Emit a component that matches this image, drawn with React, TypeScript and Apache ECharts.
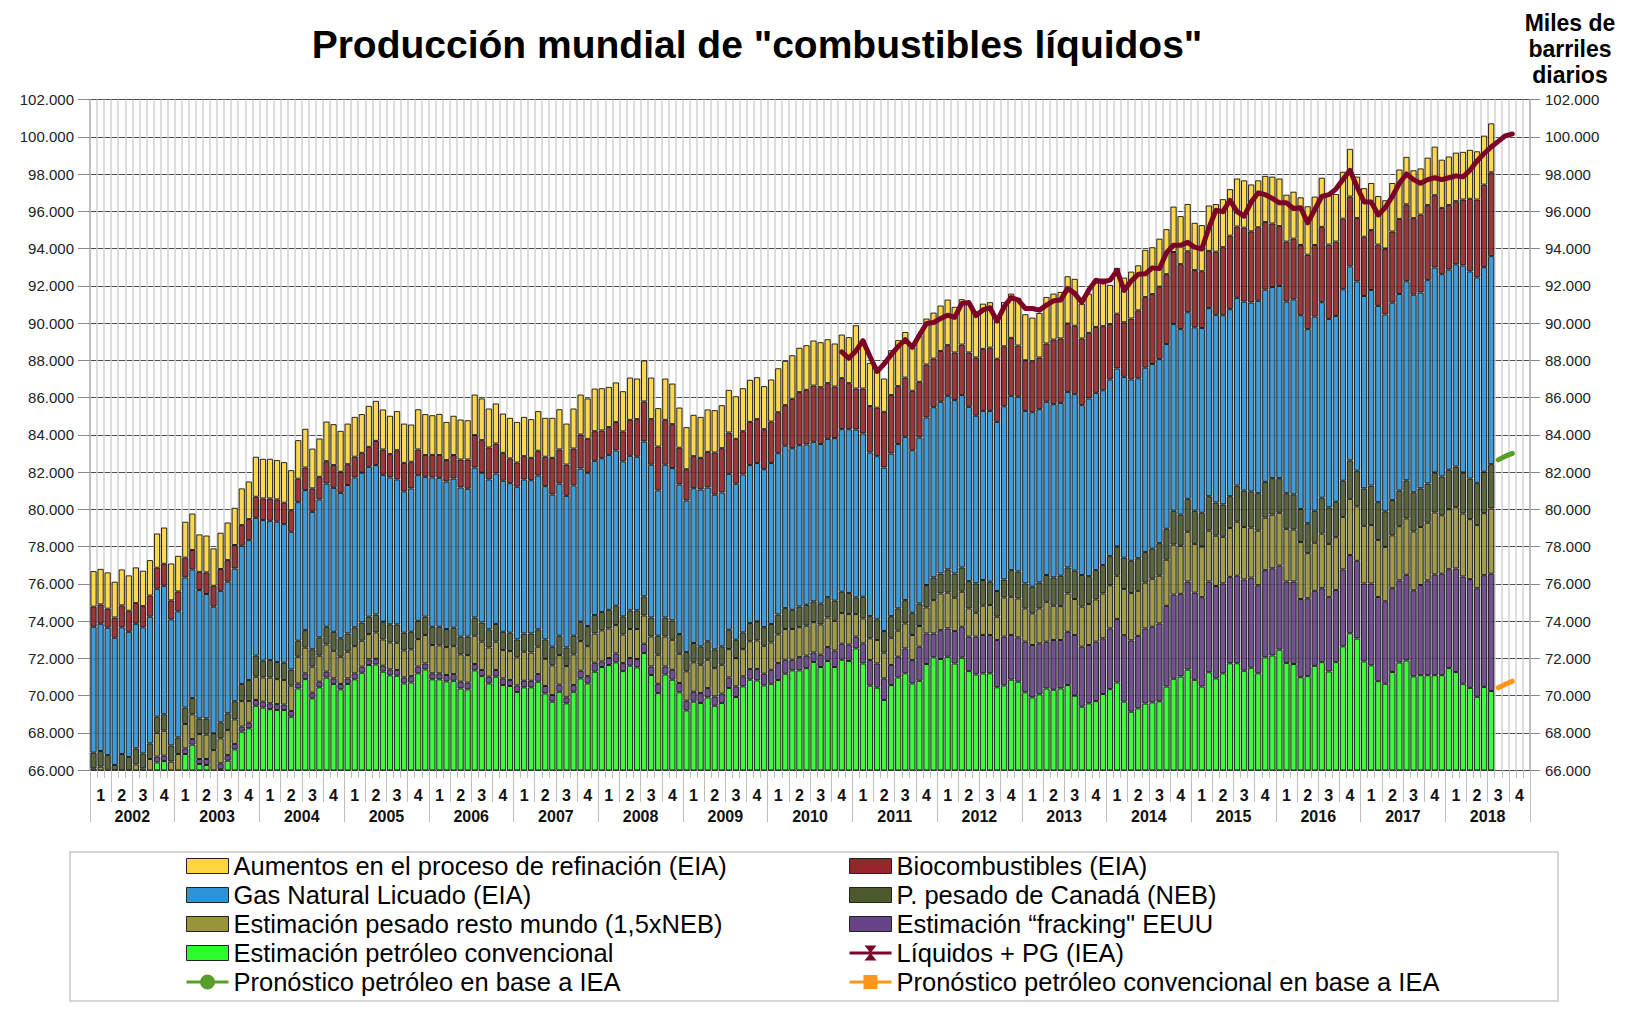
import React, { useEffect, useRef } from "react";
import * as echarts from "echarts";

const FONT = "'Liberation Sans', Arial, Helvetica, sans-serif";

// ---------- categories ----------
const years = ["2002","2003","2004","2005","2006","2007","2008","2009","2010","2011","2012","2013","2014","2015","2016","2017","2018"];
const quarterNames = ["1", "2", "3", "4"];
const monthNames = ["01","02","03","04","05","06","07","08","09","10","11","12"];
const monthCategories = years.flatMap((y) => monthNames.map((m) => `${y}-${m}`));
const quarterCategories = years.flatMap((y) => quarterNames.map((q) => `${y}-T${q}`));

// ---------- series names ----------
const N_REF = "Aumentos en el proceso de refinación (EIA)";
const N_BIO = "Biocombustibles (EIA)";
const N_NGL = "Gas Natural Licuado (EIA)";
const N_CAN = "P. pesado de Canadá (NEB)";
const N_HVY = "Estimación pesado resto mundo (1,5xNEB)";
const N_FRK = "Estimación \u201cfracking\" EEUU";
const N_CNV = "Estimación petróleo convencional";
const N_LIQ = "Líquidos + PG (IEA)";
const N_FC1 = "Pronóstico petróleo en base a IEA";
const N_FC2 = "Pronóstico petróleo convencional en base a IEA";

// ---------- data: cumulative level (top of each layer), millions b/d, Jan 2002 .. Jul 2018 ----------
const refTop = [
  76.68,76.80,76.61,76.11,76.77,76.45,76.88,76.70,77.27,78.70,79.02,77.09,77.50,79.33,79.77,78.65,78.59,77.90,78.74,79.29,80.08,81.12,81.49,82.82,82.71,82.71,82.64,82.53,82.10,83.71,84.32,83.26,83.80,84.71,84.57,84.21,
  84.60,84.96,85.11,85.55,85.82,85.36,85.02,85.27,84.60,84.55,85.37,85.11,85.05,85.12,84.69,85.02,84.82,84.78,86.16,85.95,85.41,85.68,85.14,84.91,84.69,84.96,84.84,85.27,84.91,84.91,85.37,84.60,85.41,86.16,85.95,86.48,
  86.50,86.57,86.81,86.34,87.07,87.02,87.99,87.07,85.43,87.02,86.75,85.46,84.41,85.07,84.96,85.36,85.32,85.59,86.41,86.07,86.50,86.95,87.09,86.61,86.97,87.57,87.97,88.27,88.67,88.81,89.06,88.97,89.13,88.90,89.38,89.24,
  89.88,89.08,87.86,87.56,87.02,88.54,89.08,89.52,88.68,89.35,90.24,90.56,90.94,91.26,90.87,91.28,91.04,90.63,91.04,91.12,90.36,91.13,91.58,91.35,90.47,90.29,90.54,91.40,91.58,91.67,92.51,92.37,91.04,91.58,92.17,92.39,
  92.05,92.96,92.44,92.76,93.10,93.93,94.07,94.53,95.04,96.25,95.74,96.39,95.38,95.26,96.31,96.39,96.65,97.19,97.76,97.66,97.44,97.66,97.90,97.86,97.76,96.89,97.05,96.75,96.27,96.79,97.80,96.91,96.93,98.12,99.35,97.86,
  97.24,97.52,96.82,96.59,97.52,98.24,98.92,98.20,98.30,98.88,99.47,98.77,98.94,99.15,99.19,99.30,99.22,100.06,100.72
];
const bioTop = [
  74.77,74.89,74.66,74.19,74.84,74.55,74.96,74.80,75.37,76.86,77.07,75.11,75.59,77.40,77.81,76.64,76.61,75.89,76.79,77.27,78.08,79.15,79.47,80.67,80.58,80.58,80.53,80.35,79.95,81.64,82.24,81.12,81.74,82.58,82.37,82.01,
  82.42,82.82,83.03,83.35,83.67,83.21,82.96,83.17,82.49,82.55,83.21,82.91,82.92,82.91,82.64,82.91,82.67,82.67,83.98,83.71,83.32,83.53,83.03,82.73,82.51,82.85,82.76,83.14,82.82,82.76,83.21,82.40,83.26,84.01,83.78,84.19,
  84.23,84.41,84.68,84.18,84.80,84.84,85.79,84.84,83.37,84.80,84.57,83.30,82.15,82.85,82.76,83.08,83.05,83.28,84.12,83.78,84.19,84.69,84.84,84.30,84.71,85.21,85.59,85.93,86.29,86.41,86.64,86.55,86.77,86.59,87.04,86.77,
  86.48,86.48,85.54,85.45,85.23,86.13,86.61,87.07,86.36,86.84,87.77,88.09,88.50,88.81,88.42,88.84,88.42,88.15,88.61,88.68,88.08,88.75,89.20,88.79,88.00,87.95,88.15,88.90,89.11,89.17,89.97,89.85,89.17,89.47,89.79,89.83,
  89.94,90.50,90.04,90.24,90.68,91.39,91.55,91.95,92.62,93.81,93.16,93.85,92.84,92.78,93.87,93.83,94.07,94.69,95.18,95.12,94.92,95.14,95.42,95.34,95.20,94.37,94.53,94.19,93.67,94.19,95.16,94.21,94.37,95.60,96.79,95.64,
  94.63,94.99,94.21,94.00,94.91,95.59,96.37,95.63,95.82,96.33,96.86,96.18,96.33,96.54,96.63,96.67,96.63,97.43,98.09
];
const nglTop = [
  73.69,73.85,73.64,73.10,73.66,73.42,73.85,73.66,74.23,75.73,75.89,74.09,74.52,76.34,76.77,75.66,75.45,74.77,75.62,76.11,76.82,78.04,78.34,79.54,79.42,79.38,79.33,79.20,78.79,80.38,81.03,79.86,80.53,81.38,81.15,80.88,
  81.30,81.71,81.96,82.28,82.37,81.85,81.71,81.60,80.96,81.12,81.83,81.74,81.71,81.69,81.49,81.65,81.17,81.10,82.24,81.96,81.60,81.92,81.53,81.40,81.21,81.60,81.56,81.81,81.24,80.79,81.38,80.72,81.28,82.19,81.96,82.60,
  82.74,82.92,83.16,82.57,82.87,82.82,83.64,82.39,81.01,82.39,82.21,81.33,80.47,81.13,81.06,81.17,80.78,80.90,81.90,81.37,81.87,82.37,82.48,82.15,82.48,83.01,83.41,83.28,83.44,83.48,83.62,83.50,83.78,83.82,84.30,84.30,
  84.28,84.07,83.05,82.85,82.24,82.99,83.50,83.89,83.17,83.85,84.93,85.48,85.77,86.09,85.86,86.13,85.50,85.02,85.28,85.28,84.69,85.53,86.09,86.04,85.28,85.21,85.37,85.77,85.64,85.71,86.30,86.18,85.59,85.95,86.25,86.39,
  86.97,87.56,87.11,86.97,87.03,87.60,87.80,88.06,88.87,89.94,89.67,90.58,89.77,89.73,90.80,90.44,90.42,90.74,91.35,91.15,91.10,91.19,91.79,91.93,91.99,91.15,91.27,90.42,89.67,90.34,91.12,90.22,90.38,91.81,93.04,92.23,
  91.45,91.77,90.92,90.46,91.09,91.56,92.24,91.52,91.64,92.30,92.98,92.62,92.87,93.15,93.09,92.77,92.45,93.00,93.59
];
const canadaTop = [
  66.93,67.02,66.80,66.27,66.86,66.70,67.16,66.89,67.43,68.86,68.99,67.32,67.75,69.35,69.86,68.77,68.77,67.97,68.56,69.04,69.69,70.62,70.83,72.14,71.87,71.90,71.80,71.76,71.40,72.94,73.51,72.48,73.12,73.69,73.42,73.07,
  73.33,73.66,73.92,74.23,74.35,73.96,73.82,73.82,73.37,73.42,74.01,74.23,73.69,73.69,73.57,73.64,73.16,73.16,74.19,73.92,73.55,73.84,73.42,73.37,73.01,73.33,73.33,73.55,73.01,72.62,73.21,72.58,73.21,73.96,73.73,74.32,
  74.48,74.60,74.82,74.25,74.57,74.57,75.32,74.19,73.21,74.19,74.03,73.30,72.33,72.82,72.64,72.91,72.48,72.64,73.53,72.99,73.39,73.89,73.98,73.67,73.84,74.35,74.69,74.60,74.78,74.87,75.05,74.93,75.28,75.09,75.57,75.50,
  75.27,75.30,74.26,74.09,73.46,74.26,74.68,75.12,74.44,74.94,75.93,76.34,76.55,76.77,76.55,76.88,76.14,76.02,76.20,76.11,75.61,76.23,76.73,76.66,76.02,75.84,76.07,76.47,76.34,76.43,76.88,76.70,76.47,76.41,76.73,77.00,
  77.48,78.00,77.40,77.23,77.37,77.70,77.88,78.18,78.95,79.92,79.71,80.56,79.92,79.81,80.70,80.36,80.26,80.70,81.27,81.00,80.96,80.86,81.47,81.67,81.67,80.86,80.80,80.02,79.25,79.92,80.62,80.10,80.40,81.53,82.62,82.07,
  81.12,81.27,80.38,79.89,80.49,81.00,81.55,80.91,81.12,81.38,81.97,81.76,82.12,82.29,81.97,81.65,81.42,82.01,82.42
];
const heavyTop = [
  66.09,66.18,65.98,65.45,65.95,65.80,66.30,66.09,66.59,68.00,68.11,66.45,66.86,68.47,68.99,67.93,67.90,67.07,67.70,68.15,68.72,69.70,69.70,71.01,70.97,70.96,70.88,70.83,70.53,72.08,72.57,71.55,72.14,72.74,72.40,72.08,
  72.35,72.65,72.94,73.30,73.39,73.01,72.85,72.83,72.42,72.48,73.03,73.25,72.71,72.69,72.60,72.65,72.21,72.17,73.21,72.89,72.58,72.89,72.44,72.39,72.05,72.35,72.31,72.62,71.97,71.62,72.17,71.58,72.21,72.92,72.65,73.33,
  73.50,73.60,73.78,73.28,73.57,73.57,74.30,73.17,72.19,73.17,72.99,72.24,71.30,71.78,71.65,71.92,71.47,71.65,72.49,72.01,72.49,72.91,72.96,72.67,72.85,73.28,73.57,73.57,73.67,73.75,73.94,73.82,74.19,74.01,74.43,74.37,
  74.37,74.14,73.07,72.98,72.30,73.10,73.48,73.87,73.25,73.73,74.73,75.12,75.48,75.52,75.25,75.57,74.68,74.44,74.82,74.86,74.23,75.27,75.30,75.21,74.68,74.41,74.68,75.03,74.82,74.80,75.48,75.18,74.77,74.91,75.16,75.48,
  75.92,76.43,75.72,75.50,75.62,76.06,76.27,76.43,77.29,78.10,78.04,78.79,78.14,78.00,78.85,78.58,78.52,78.99,79.33,79.05,79.01,78.85,79.55,79.71,79.81,78.95,78.91,78.24,77.64,78.20,78.69,78.14,78.50,79.59,80.56,80.16,
  79.11,79.15,78.35,77.98,78.60,79.09,79.51,78.81,79.05,79.28,79.83,79.68,80.00,80.11,79.77,79.47,79.15,79.79,80.04
];
const frackTop = [
  64.80,64.90,64.70,64.20,64.70,64.50,65.00,64.80,65.30,66.72,66.77,65.20,65.60,67.16,67.66,66.59,66.59,65.85,66.36,66.80,67.40,68.33,68.54,69.76,69.67,69.58,69.54,69.51,69.17,70.65,71.19,70.15,70.74,71.28,70.92,70.62,
  70.92,71.19,71.55,71.94,71.97,71.60,71.40,71.37,70.97,71.04,71.55,71.72,71.19,71.19,71.10,71.15,70.74,70.69,71.69,71.37,71.01,71.37,70.92,70.83,70.54,70.79,70.79,71.15,70.51,70.03,70.58,69.90,70.56,71.33,71.04,71.76,
  71.83,72.01,72.26,71.74,72.01,71.96,72.78,71.56,70.63,71.56,71.38,70.67,69.72,70.20,70.13,70.40,69.95,70.10,70.97,70.49,71.03,71.42,71.42,71.17,71.38,71.74,71.92,71.92,72.06,72.14,72.31,72.19,72.60,72.42,72.78,72.73,
  73.16,72.80,71.90,71.72,70.92,71.64,72.08,72.53,71.90,72.62,73.33,73.33,73.51,73.60,73.46,73.69,73.16,73.16,73.25,73.25,72.98,73.16,73.25,73.12,72.89,72.71,72.80,72.89,72.98,72.98,73.42,73.25,72.62,72.71,72.89,73.07,
  73.60,74.11,73.24,72.96,73.20,73.60,73.69,73.87,74.81,75.42,75.46,76.12,75.52,75.28,76.12,75.88,76.02,76.37,76.43,76.23,76.33,75.92,76.73,76.83,76.97,76.12,76.12,75.18,75.22,75.62,75.76,75.28,75.66,76.77,77.54,77.23,
  76.01,76.01,75.29,75.06,75.76,76.18,76.48,75.65,75.93,76.18,76.50,76.54,76.78,76.82,76.39,76.25,75.76,76.46,76.54
];
const convTop = [
  64.50,64.60,64.40,63.90,64.40,64.20,64.70,64.50,65.00,66.41,66.48,64.90,65.30,66.86,67.36,66.32,66.27,65.55,66.04,66.50,67.11,68.06,68.24,69.45,69.35,69.27,69.22,69.22,68.86,70.38,70.88,69.85,70.44,70.96,70.62,70.33,
  70.62,70.87,71.22,71.64,71.67,71.28,71.08,71.06,70.65,70.70,71.19,71.40,70.87,70.87,70.76,70.79,70.38,70.33,71.35,71.04,70.65,71.01,70.56,70.51,70.19,70.44,70.44,70.74,70.11,69.67,70.20,69.58,70.20,70.92,70.65,71.28,
  71.53,71.64,71.78,71.31,71.60,71.51,72.28,71.10,70.13,71.13,70.85,70.17,69.20,69.67,69.60,69.90,69.45,69.60,70.40,69.92,70.49,70.85,70.81,70.54,70.63,70.83,71.17,71.35,71.35,71.47,71.80,71.53,71.85,71.53,71.92,71.85,
  72.53,71.72,70.53,70.42,69.76,70.56,70.97,71.19,70.65,70.79,71.69,72.05,71.96,72.08,71.72,72.03,71.31,71.13,71.19,71.19,70.44,70.54,70.85,70.74,70.17,69.90,70.06,70.38,70.31,70.38,70.56,69.99,69.40,69.58,69.70,70.08,
  70.34,70.70,69.67,69.13,69.31,69.57,69.63,69.69,70.48,70.90,71.02,71.39,70.84,70.48,71.25,70.92,71.19,71.73,71.73,71.33,71.49,71.19,72.05,72.15,72.46,71.75,71.69,70.98,71.04,71.59,71.79,71.29,71.79,72.64,73.34,73.06,
  71.83,71.62,70.77,70.63,71.26,71.77,71.88,71.03,71.09,71.09,71.09,71.09,71.47,71.26,70.63,70.41,69.93,70.46,70.24
];

// Líquidos + PG (IEA), monthly from Nov 2010 (month index 106) to Oct 2018
const liquidsStart = 106;
const liquidsIEA = [
  88.45,88.10,88.50,89.05,88.20,87.40,87.80,88.30,88.75,89.10,
  88.70,89.35,89.97,90.03,90.24,90.42,90.30,91.05,91.10,90.40,
  90.70,90.82,90.10,90.87,91.37,91.23,90.78,90.78,90.69,90.96,
  91.19,91.23,91.86,91.59,91.10,91.77,92.30,92.20,92.30,92.82,
  91.75,92.25,92.62,92.64,92.96,92.92,93.77,94.17,94.17,94.33,
  94.07,93.97,95.10,96.05,95.98,96.59,95.98,95.74,96.49,96.99,
  96.89,96.69,96.45,96.45,96.15,96.19,95.38,96.08,96.79,96.89,
  97.19,97.70,98.20,97.30,96.50,96.50,95.80,96.20,96.80,97.50,
  98.00,97.70,97.50,97.70,97.80,97.70,97.80,97.90,97.85,98.20,
  98.70,99.10,99.45,99.75,100.05,100.15
];
// forecasts, Aug .. Oct 2018
const forecastStart = 199;
const forecastOil = [82.65, 82.85, 83.0];
const forecastConventional = [70.42, 70.6, 70.77];

// y axis ticks
const yMin = 66;
const yMax = 102;
const yStep = 2;

const colors = {
  ref: "#ffd63e",
  bio: "#952629",
  ngl: "#2c95d8",
  can: "#4c5a2d",
  hvy: "#989438",
  frk: "#674389",
  cnv: "#2aff2a",
  liq: "#7a0526",
  fc1: "#5a9e2a",
  fc2: "#ff951a",
};

const diff = (a: number[], b: number[]) => a.map((v, i) => +(v - b[i]).toFixed(3));
const placeOnMonths = (start: number, vals: number[]) =>
  monthCategories.map((_, i) => (i >= start && i < start + vals.length ? vals[i - start] : null));

export default function App() {
  const ref = useRef<HTMLDivElement>(null);

  useEffect(() => {
    if (!ref.current) return;
    const chart = echarts.init(ref.current, undefined, { renderer: "svg" });

    const barCommon = (name: string, color: string, data: number[]) => ({
      name,
      type: "bar",
      stack: "total",
      xAxisIndex: 0,
      yAxisIndex: 0,
      barCategoryGap: "12%",
      data,
      itemStyle: { color, borderColor: "#151515", borderWidth: 1, opacity: 0.92 },
      emphasis: { disabled: true },
      z: 2,
    });

    const lineCommon = (name: string, color: string, data: (number | null)[]) => ({
      name,
      type: "line",
      xAxisIndex: 0,
      yAxisIndex: 0,
      data,
      showSymbol: false,
      symbol: "none",
      connectNulls: false,
      lineStyle: { color, width: 5, cap: "round", join: "round" },
      itemStyle: { color },
      emphasis: { disabled: true },
      z: 5,
    });

    const barLegend = (name: string) => ({
      name,
      icon: "rect",
      itemStyle: { borderColor: "#222", borderWidth: 1, opacity: 1 },
    });
    const ICON_LIQ = "path://M0,6H42V9H0Z M15,0H27L21,7.5L27,15H15L21,7.5Z";
    const ICON_FC1 = "path://M0,6H42V9H0Z M13.5,7.5A7.5,7.5 0 1 1 28.5,7.5A7.5,7.5 0 1 1 13.5,7.5Z";
    const ICON_FC2 = "path://M0,6H42V9H0Z M14,0.5H28V14.5H14Z";

    const legendBase = {
      orient: "vertical",
      top: 853,
      itemWidth: 42,
      itemHeight: 15,
      itemGap: 3.0,
      padding: 0,
      selectedMode: false,
      textStyle: { fontFamily: FONT, fontSize: 25.5, color: "#000", lineHeight: 25.5 },
    };

    const yAxisBase = {
      type: "value",
      min: yMin,
      max: yMax,
      interval: yStep,
      axisLine: { show: true, lineStyle: { color: "#b5b5b5", width: 1.5 } },
      axisLabel: {
        fontFamily: FONT,
        fontSize: 15,
        color: "#222",
        formatter: (v: number) => v.toFixed(3),
      },
    };

    const option = {
      animation: false,
      textStyle: { fontFamily: FONT },
      grid: { left: 90, right: 108, top: 99.5, bottom: 242, containLabel: false },
      graphic: [
        {
          type: "text",
          x: 757,
          y: 44,
          style: {
            text: "Producción mundial de \"combustibles líquidos\"",
            fontFamily: FONT,
            fontWeight: "bold",
            fontSize: 39,
            fill: "#000",
            align: "center",
            verticalAlign: "middle",
          },
        },
        {
          type: "text",
          x: 1570,
          y: 48.5,
          style: {
            text: "Miles de\nbarriles\ndiarios",
            fontFamily: FONT,
            fontWeight: "bold",
            fontSize: 23,
            lineHeight: 26,
            fill: "#000",
            align: "center",
            verticalAlign: "middle",
          },
        },
        {
          type: "rect",
          shape: { x: 70, y: 852, width: 1488, height: 149 },
          style: { fill: "none", stroke: "#c8c8c8", lineWidth: 1.5 },
          silent: true,
        },
      ],
      legend: [
        {
          ...legendBase,
          left: 186,
          data: [barLegend(N_REF), barLegend(N_NGL), barLegend(N_HVY), barLegend(N_CNV),
            { name: N_FC1, icon: ICON_FC1, itemStyle: { color: colors.fc1, borderWidth: 0 } }],
        },
        {
          ...legendBase,
          left: 849,
          data: [barLegend(N_BIO), barLegend(N_CAN), barLegend(N_FRK),
            { name: N_LIQ, icon: ICON_LIQ, itemStyle: { color: colors.liq, borderWidth: 0 } },
            { name: N_FC2, icon: ICON_FC2, itemStyle: { color: colors.fc2, borderWidth: 0 } }],
        },
      ],
      xAxis: [
        {
          type: "category",
          data: monthCategories,
          position: "bottom",
          boundaryGap: true,
          axisLine: { show: true, lineStyle: { color: "#4a4a4a", width: 1 } },
          axisTick: { show: true, interval: 0, length: 8, lineStyle: { color: "#bdbdbd" } },
          axisLabel: { show: false },
          splitLine: { show: true, interval: 0, lineStyle: { color: "#d2d2d2", width: 1.5 } },
        },
        {
          type: "category",
          data: quarterCategories,
          position: "bottom",
          axisLine: { show: false },
          axisTick: { show: true, interval: 0, length: 32, lineStyle: { color: "#bdbdbd" } },
          axisLabel: {
            interval: 0,
            margin: 17,
            fontFamily: FONT,
            fontSize: 16,
            fontWeight: "bold",
            color: "#111",
            formatter: (v: string) => v.split("-T")[1],
          },
          splitLine: { show: false },
        },
        {
          type: "category",
          data: years,
          position: "bottom",
          axisLine: { show: false },
          axisTick: { show: true, interval: 0, length: 52, lineStyle: { color: "#bdbdbd" } },
          axisLabel: {
            interval: 0,
            margin: 38,
            fontFamily: FONT,
            fontSize: 16,
            fontWeight: "bold",
            color: "#111",
          },
          splitLine: { show: false },
        },
      ],
      yAxis: [
        {
          ...yAxisBase,
          position: "left",
          axisTick: { show: true, length: 12, lineStyle: { color: "#8a8a8a" } },
          axisLabel: { ...yAxisBase.axisLabel, margin: 16 },
          splitLine: { show: true, lineStyle: { color: "#4d4d4d", width: 1 } },
        },
        {
          ...yAxisBase,
          position: "right",
          axisTick: { show: true, length: 10, lineStyle: { color: "#8a8a8a" } },
          axisLabel: { ...yAxisBase.axisLabel, margin: 15 },
          splitLine: { show: false },
        },
      ],
      series: [
        barCommon(N_CNV, colors.cnv, convTop),
        barCommon(N_FRK, colors.frk, diff(frackTop, convTop)),
        barCommon(N_HVY, colors.hvy, diff(heavyTop, frackTop)),
        barCommon(N_CAN, colors.can, diff(canadaTop, heavyTop)),
        barCommon(N_NGL, colors.ngl, diff(nglTop, canadaTop)),
        barCommon(N_BIO, colors.bio, diff(bioTop, nglTop)),
        barCommon(N_REF, colors.ref, diff(refTop, bioTop)),
        lineCommon(N_LIQ, colors.liq, placeOnMonths(liquidsStart, liquidsIEA)),
        lineCommon(N_FC1, colors.fc1, placeOnMonths(forecastStart, forecastOil)),
        lineCommon(N_FC2, colors.fc2, placeOnMonths(forecastStart, forecastConventional)),
      ],
    };

    chart.setOption(option as any);
    return () => chart.dispose();
  }, []);

  return (
    <div
      ref={ref}
      style={{ position: "absolute", left: 0, top: 0, width: 1638, height: 1012, background: "#fff" }}
    />
  );
}
